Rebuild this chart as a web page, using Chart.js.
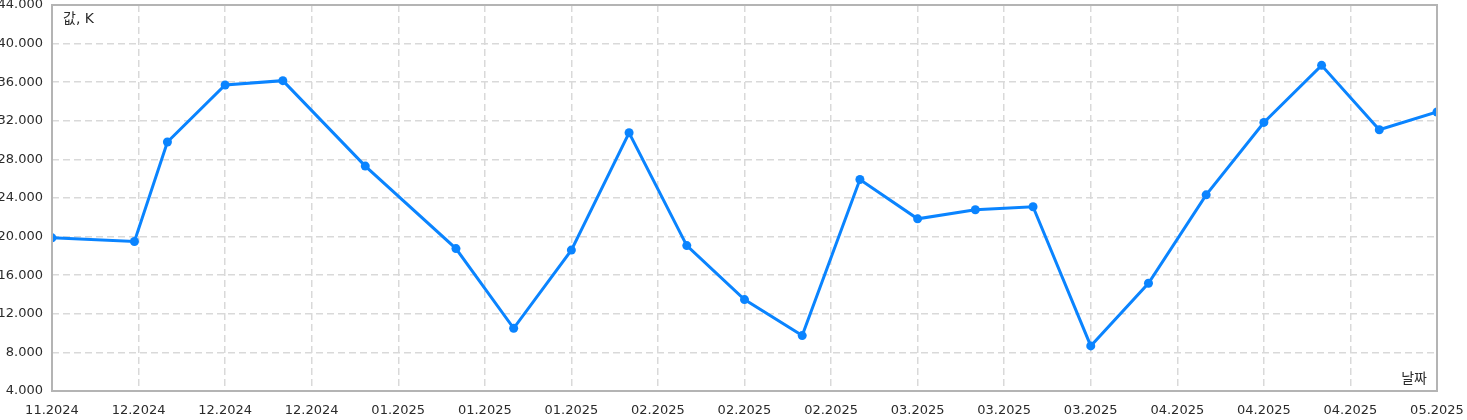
<!DOCTYPE html>
<html>
<head>
<meta charset="utf-8">
<script src="https://cdn.jsdelivr.net/npm/chart.js@4.4.1/dist/chart.umd.min.js"></script>
<style>
  html, body { margin: 0; padding: 0; background: #fff; }
  #wrap { width: 1467px; height: 420px; }
</style>
</head>
<body>
<div id="wrap"><canvas id="grafico" width="1467" height="420"></canvas></div>
<script>
// ========== DATOS ==========
// dias desde el primer punto
const dias = [0, 10, 14, 21, 28, 38, 49, 56, 63, 70, 77, 84, 91, 98, 105, 112, 119, 126, 133, 140, 147, 154, 161, 168];
// valores en K
const valores = [19.87, 19.49, 29.8, 35.71, 36.16, 27.31, 18.76, 10.5, 18.6, 30.76, 19.07, 13.47, 9.74, 25.92, 21.84, 22.78, 23.09, 8.67, 15.17, 24.33, 31.83, 37.75, 31.07, 32.91];
const etiquetasX = ["11.2024", "12.2024", "12.2024", "12.2024", "01.2025", "01.2025", "01.2025", "02.2025", "02.2025", "02.2025", "03.2025", "03.2025", "03.2025", "04.2025", "04.2025", "04.2025", "05.2025"];
const pasoX = 10.5;
const yMin = 4, yMax = 44, pasoY = 4;
const tituloY = "값, K";
const tituloX = "날짜";

const fuente = 'DejaVu Sans, "Noto Sans CJK KR", sans-serif';
const azul = "#0a84ff";

// borde del area y textos de los ejes dentro del grafico
const marcoPlugin = {
  id: "marco",
  afterDraw(chart) {
    const { ctx, chartArea: a } = chart;
    ctx.save();
    ctx.strokeStyle = "#b4b4b4";
    ctx.lineWidth = 2;
    ctx.strokeRect(a.left, a.top, a.right - a.left, a.bottom - a.top);
    ctx.fillStyle = "#2b2b2b";
    ctx.font = "14px " + fuente;
    ctx.textBaseline = "middle";
    ctx.textAlign = "left";
    ctx.fillText(tituloY, a.left + 11, a.top + 14);
    ctx.textAlign = "right";
    ctx.fillText(tituloX, a.right - 10, a.bottom - 12);
    ctx.restore();
  }
};

const puntos = dias.map((d, i) => ({ x: d, y: valores[i] }));

new Chart(document.getElementById("grafico"), {
  type: "line",
  data: {
    datasets: [{
      data: puntos,
      borderColor: azul,
      backgroundColor: azul,
      borderWidth: 3,
      pointRadius: 4.5,
      pointBorderWidth: 0,
      pointBackgroundColor: azul,
      tension: 0,
      clip: 0
    }]
  },
  options: {
    responsive: false,
    animation: false,
    events: [],
    layout: { padding: { top: 5, right: 30, left: 0, bottom: 0 } },
    plugins: { legend: { display: false }, tooltip: { enabled: false } },
    scales: {
      x: {
        type: "linear",
        min: 0,
        max: dias[dias.length - 1],
        afterBuildTicks(scale) {
          scale.ticks = etiquetasX.map((_, i) => ({ value: i * pasoX }));
        },
        afterFit(scale) {
          scale.height = 29;
          scale.paddingLeft = 0;
          scale.paddingRight = 0;
        },
        border: { display: false, dash: [7, 4] },
        grid: { color: "#d9d9d9", lineWidth: 1.5, drawTicks: false },
        ticks: {
          color: "#2b2b2b",
          font: { family: fuente, size: 13 },
          padding: 12,
          maxRotation: 0,
          autoSkip: false,
          callback: (v, i) => etiquetasX[i]
        }
      },
      y: {
        min: yMin,
        max: yMax,
        afterFit(scale) {
          scale.width = 52;
          scale.paddingTop = 0;
          scale.paddingBottom = 0;
        },
        border: { display: false, dash: [7, 4] },
        grid: { color: "#d9d9d9", lineWidth: 1.5, drawTicks: false },
        ticks: {
          stepSize: pasoY,
          color: "#2b2b2b",
          font: { family: fuente, size: 13 },
          padding: 9,
          callback: v => v.toFixed(3)
        }
      }
    }
  },
  plugins: [marcoPlugin]
});
</script>
</body>
</html>
